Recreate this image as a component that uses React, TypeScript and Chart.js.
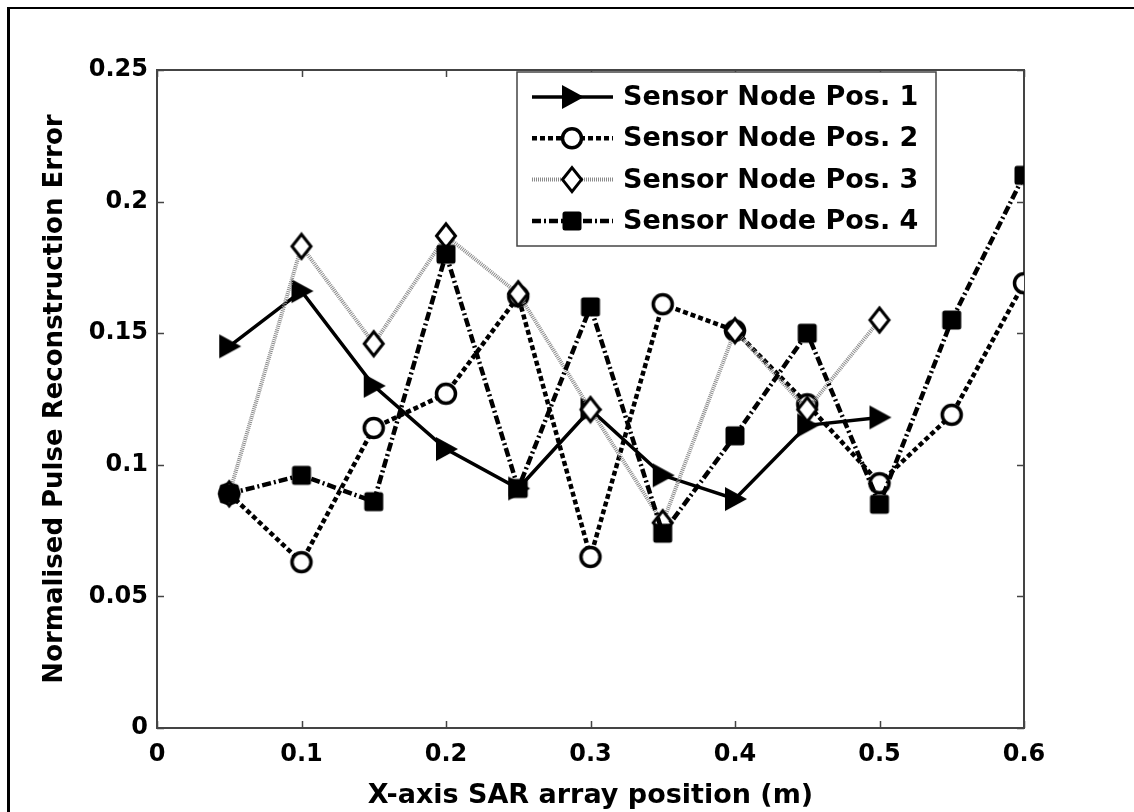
import React, { useEffect, useRef } from 'react';
import { Chart, registerables } from 'chart.js';

Chart.register(...registerables);

// ---- data ----
const xPositions = [0.05, 0.1, 0.15, 0.2, 0.25, 0.3, 0.35, 0.4, 0.45, 0.5, 0.55, 0.6];
const seriesNames = ['Sensor Node Pos. 1', 'Sensor Node Pos. 2', 'Sensor Node Pos. 3', 'Sensor Node Pos. 4'];
const pos1 = [0.145, 0.166, 0.130, 0.106, 0.091, 0.121, 0.096, 0.087, 0.115, 0.118];
const pos2 = [0.089, 0.063, 0.114, 0.127, 0.164, 0.065, 0.161, 0.151, 0.123, 0.093, 0.119, 0.169];
const pos3 = [0.089, 0.183, 0.146, 0.187, 0.165, 0.121, 0.078, 0.151, 0.121, 0.155];
const pos4 = [0.089, 0.096, 0.086, 0.180, 0.091, 0.160, 0.074, 0.111, 0.150, 0.085, 0.155, 0.210];
const xTicks = [0, 0.1, 0.2, 0.3, 0.4, 0.5, 0.6];
const xTickLabels = ['0', '0.1', '0.2', '0.3', '0.4', '0.5', '0.6'];
const yTicks = [0, 0.05, 0.1, 0.15, 0.2, 0.25];
const yTickLabels = ['0', '0.05', '0.1', '0.15', '0.2', '0.25'];
const xTitle = 'X-axis SAR array position (m)';
const yTitle = 'Normalised Pulse Reconstruction Error';

const FONT = '"DejaVu Sans", "Liberation Sans", Arial, sans-serif';

type Kind = 'tri' | 'circle' | 'diamond' | 'square';

function drawMarker(ctx: CanvasRenderingContext2D, kind: Kind, cx: number, cy: number) {
  ctx.save();
  ctx.setLineDash([]);
  ctx.lineJoin = 'miter';
  ctx.beginPath();
  if (kind === 'tri') {
    ctx.moveTo(cx - 10, cy - 12);
    ctx.lineTo(cx + 12, cy);
    ctx.lineTo(cx - 10, cy + 12);
    ctx.closePath();
    ctx.fillStyle = '#000';
    ctx.fill();
  } else if (kind === 'circle') {
    ctx.arc(cx, cy, 9.5, 0, Math.PI * 2);
    ctx.fillStyle = '#fff';
    ctx.fill();
    ctx.lineWidth = 3.5;
    ctx.strokeStyle = '#000';
    ctx.stroke();
  } else if (kind === 'diamond') {
    ctx.moveTo(cx, cy - 12);
    ctx.lineTo(cx + 9.5, cy);
    ctx.lineTo(cx, cy + 12);
    ctx.lineTo(cx - 9.5, cy);
    ctx.closePath();
    ctx.fillStyle = '#fff';
    ctx.fill();
    ctx.lineWidth = 3;
    ctx.strokeStyle = '#000';
    ctx.stroke();
  } else {
    const s = 9.5;
    const r = 2.5;
    ctx.moveTo(cx - s + r, cy - s);
    ctx.arcTo(cx + s, cy - s, cx + s, cy + s, r);
    ctx.arcTo(cx + s, cy + s, cx - s, cy + s, r);
    ctx.arcTo(cx - s, cy + s, cx - s, cy - s, r);
    ctx.arcTo(cx - s, cy - s, cx + s, cy - s, r);
    ctx.closePath();
    ctx.fillStyle = '#000';
    ctx.fill();
  }
  ctx.restore();
}

function makeMarker(kind: Kind): HTMLCanvasElement {
  const c = document.createElement('canvas');
  c.width = 30;
  c.height = 30;
  const ctx = c.getContext('2d')!;
  drawMarker(ctx, kind, 15, 15);
  return c;
}

const kinds: Kind[] = ['tri', 'circle', 'diamond', 'square'];
const lineColors = ['#000', '#000', '#8a8a8a', '#000'];
const lineWidths = [3.5, 4.5, 4, 4.5];
const lineDashes = [[], [5, 3], [1, 1], [9, 3, 2, 3]];

export default function App() {
  const ref = useRef<HTMLCanvasElement>(null);

  useEffect(() => {
    if (!ref.current) return;
    const series = [pos1, pos2, pos3, pos4];
    const datasets = series.map((vals, i) => ({
      label: seriesNames[i],
      data: vals.map((v, j) => ({ x: xPositions[j], y: v })),
      borderColor: lineColors[i],
      borderWidth: lineWidths[i],
      borderDash: lineDashes[i],
      pointStyle: makeMarker(kinds[i]),
      pointRadius: 12,
      pointHoverRadius: 12,
      backgroundColor: '#000',
      fill: false,
      tension: 0,
      order: 4 - i,
    }));

    const framePlugin = {
      id: 'frame',
      beforeDatasetsDraw(chart: any) {
        const { ctx, chartArea: a, scales } = chart;
        ctx.save();
        ctx.strokeStyle = '#444';
        ctx.lineWidth = 2;
        ctx.setLineDash([]);
        ctx.strokeRect(a.left, a.top, a.right - a.left, a.bottom - a.top);
        const tl = 7;
        ctx.beginPath();
        xTicks.forEach((v) => {
          const px = Math.round(scales.x.getPixelForValue(v)) + 0.5;
          ctx.moveTo(px, a.bottom);
          ctx.lineTo(px, a.bottom - tl);
          ctx.moveTo(px, a.top);
          ctx.lineTo(px, a.top + tl);
        });
        yTicks.forEach((v) => {
          const py = Math.round(scales.y.getPixelForValue(v)) + 0.5;
          ctx.moveTo(a.left, py);
          ctx.lineTo(a.left + tl, py);
          ctx.moveTo(a.right, py);
          ctx.lineTo(a.right - tl, py);
        });
        ctx.lineWidth = 1.5;
        ctx.stroke();
        ctx.restore();
      },
      afterDatasetsDraw(chart: any) {
        const { ctx } = chart;
        const bx = 517, by = 72, bw = 419, bh = 174;
        ctx.save();
        ctx.fillStyle = '#fff';
        ctx.fillRect(bx, by, bw, bh);
        ctx.strokeStyle = '#444';
        ctx.lineWidth = 1.5;
        ctx.setLineDash([]);
        ctx.strokeRect(bx, by, bw, bh);
        for (let i = 0; i < 4; i++) {
          const ry = 97 + i * 41.3;
          ctx.beginPath();
          ctx.strokeStyle = lineColors[i];
          ctx.lineWidth = lineWidths[i];
          ctx.setLineDash(lineDashes[i]);
          ctx.moveTo(532, ry);
          ctx.lineTo(613, ry);
          ctx.stroke();
          ctx.setLineDash([]);
          drawMarker(ctx, kinds[i], 572, ry);
          ctx.fillStyle = '#000';
          ctx.font = `bold 27px ${FONT}`;
          ctx.textBaseline = 'middle';
          ctx.textAlign = 'left';
          ctx.fillText(seriesNames[i], 623, ry + 1);
        }
        ctx.restore();
      },
    };

    const chart = new Chart(ref.current, {
      type: 'line',
      data: { datasets },
      options: {
        animation: false,
        responsive: false,
        maintainAspectRatio: false,
        layout: { padding: { top: 70, right: 110, left: 0, bottom: 0 } },
        plugins: { legend: { display: false }, tooltip: { enabled: false } },
        scales: {
          x: {
            type: 'linear',
            min: 0,
            max: 0.6,
            afterBuildTicks: (s: any) => {
              s.ticks = xTicks.map((v) => ({ value: v }));
            },
            afterFit: (s: any) => {
              s.height = 84;
            },
            grid: { display: false, drawTicks: false },
            border: { display: false },
            ticks: {
              padding: 12,
              color: '#000',
              font: { family: FONT, size: 24, weight: 'bold' },
              maxRotation: 0,
              autoSkip: false,
              callback: (_v: any, i: number) => xTickLabels[i],
            },
            title: {
              display: true,
              text: xTitle,
              color: '#000',
              font: { family: FONT, size: 27, weight: 'bold' },
              padding: { top: 6, bottom: 0 },
            },
          },
          y: {
            type: 'linear',
            min: 0,
            max: 0.25,
            afterBuildTicks: (s: any) => {
              s.ticks = yTicks.map((v) => ({ value: v }));
            },
            afterFit: (s: any) => {
              s.width = 157;
            },
            grid: { display: false, drawTicks: false },
            border: { display: false },
            ticks: {
              padding: 9,
              color: '#000',
              font: { family: FONT, size: 24, weight: 'bold' },
              autoSkip: false,
              callback: (_v: any, i: number) => yTickLabels[i],
            },
            title: {
              display: true,
              text: yTitle,
              color: '#000',
              font: { family: FONT, size: 26, weight: 'bold' },
              padding: { top: 40, bottom: 0 },
            },
          },
        },
      },
      plugins: [framePlugin],
    } as any);

    return () => chart.destroy();
  }, []);

  return (
    <div style={{ position: 'absolute', left: 0, top: 0, width: 1134, height: 812, background: '#fff', overflow: 'hidden' }}>
      <div
        style={{
          position: 'absolute',
          left: 7,
          top: 7,
          right: 0,
          bottom: 0,
          borderLeft: '3px solid #000',
          borderTop: '2px solid #000',
        }}
      />
      <canvas ref={ref} width={1134} height={812} style={{ position: 'absolute', left: 0, top: 0, width: 1134, height: 812 }} />
    </div>
  );
}
